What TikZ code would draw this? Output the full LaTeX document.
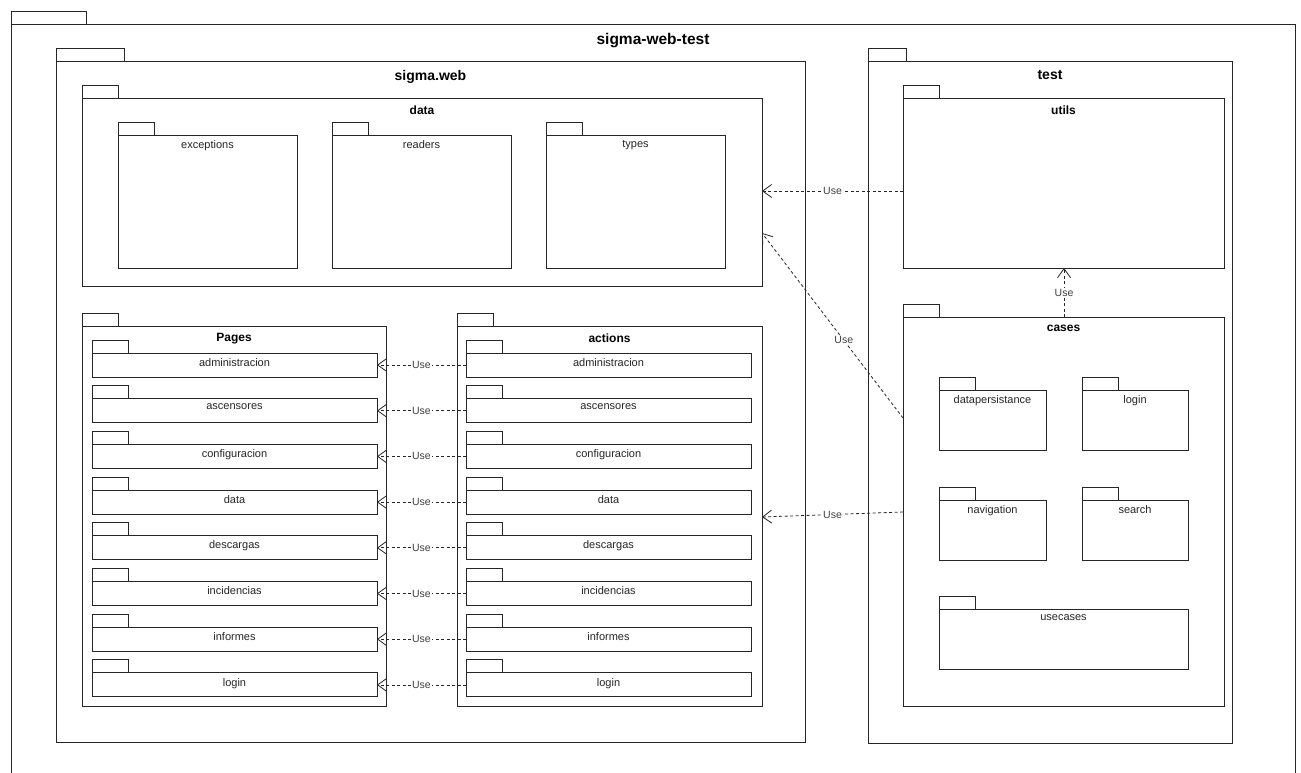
\documentclass[tikz,border=0pt]{standalone}
\usepackage{fontspec}
\setmainfont{Liberation Sans}
\usetikzlibrary{arrows.meta}

\tikzset{
  pkgbody/.style={draw=black!85, line width=0.9pt, rectangle, inner sep=0pt, outer sep=0pt},
  pkgtab/.style={draw=black!85, line width=0.9pt, rectangle, inner sep=0pt, outer sep=0pt, minimum height=13pt},
  bigtitle/.style={font=\fontsize{15.5}{17}\selectfont\bfseries, yshift=-8pt},
  midtitle/.style={font=\fontsize{14}{16}\selectfont\bfseries, yshift=-8.5pt},
  smalltitle/.style={font=\fontsize{12}{14}\selectfont\bfseries, yshift=-6.5pt},
  itemtitle/.style={font=\fontsize{11}{13}\selectfont, text=black!85, yshift=-4pt},
  uses/.style={draw=black!85, line width=0.8pt, dash pattern=on 3pt off 2.5pt,
    -{Straight Barb[length=9pt,width=13pt,line width=0.8pt]}},
  uselbl/.style={font=\fontsize{10.5}{12}\selectfont, text=black!75, fill=white, inner sep=1pt}
}

% #1 name, #2/#3 top-left corner, #4 width, #5 height, #6 tab width, #7 title style, #8 title
\newcommand\umlpkg[8]{%
  \node[pkgbody, minimum width=#4pt, minimum height=#5pt, anchor=north west] (#1) at (#2,#3) {};
  \node[pkgtab, minimum width=#6pt, anchor=south west] (#1-tab) at (#1.north west) {};
  \node[#7, anchor=north, inner sep=1pt] (#1-title) at (#1.north) {#8};
}

\begin{document}
\begin{tikzpicture}[x=1pt, y=-1pt]
  \clip (0,0) rectangle (1301,773);
  \fill[white] (0,0) rectangle (1301,773);

  % outer package
  \umlpkg{root}{11}{24}{1284}{800}{75}{bigtitle}{sigma-web-test}

  % sigma.web
  \umlpkg{web}{56}{61}{749}{681}{68}{midtitle}{sigma.web}

  % data
  \umlpkg{data}{82}{98}{680}{188}{36}{smalltitle}{data}
  \umlpkg{exc}{118}{135}{179}{133}{36}{itemtitle}{exceptions}
  \umlpkg{rdr}{332}{135}{179}{133}{36}{itemtitle}{readers}
  \umlpkg{typ}{546}{135}{179}{133}{36}{itemtitle}{types}

  % Pages and actions
  \umlpkg{pages}{82}{326}{304}{380}{36}{smalltitle}{Pages}
  \umlpkg{acts}{457}{326}{305}{380}{36}{smalltitle}{actions}

  \foreach \n/\lab [count=\i from 0] in {adm/administracion, asc/ascensores, cfg/configuracion,
      dat/data, des/descargas, inc/incidencias, inf/informes, log/login} {
    \pgfmathsetmacro\yy{353+45.7*\i}
    \umlpkg{pg-\n}{92}{\yy}{285}{24}{36}{itemtitle}{\lab}
    \umlpkg{ac-\n}{466}{\yy}{285}{24}{36}{itemtitle}{\lab}
    \draw[uses] (ac-\n.west) -- node[uselbl]{Use} (pg-\n.east);
  }

  % test
  \umlpkg{test}{868}{61}{364}{682}{38}{midtitle}{test}
  \umlpkg{utils}{903}{98}{321}{170}{36}{smalltitle}{utils}
  \umlpkg{cases}{903}{317}{321}{389}{36}{smalltitle}{cases}
  \umlpkg{dper}{939}{390}{107}{60}{36}{itemtitle}{datapersistance}
  \umlpkg{clog}{1082}{390}{106}{60}{36}{itemtitle}{login}
  \umlpkg{nav}{939}{500}{107}{60}{36}{itemtitle}{navigation}
  \umlpkg{srch}{1082}{500}{106}{60}{36}{itemtitle}{search}
  \umlpkg{ucs}{939}{609}{249}{60}{36}{itemtitle}{usecases}

  % dependencies between packages
  \coordinate (utilsOut) at (903,191);
  \coordinate (dataIn1) at (762,191);
  \draw[uses] (utilsOut) -- node[uselbl]{Use} (dataIn1);

  \coordinate (casesOut1) at (903,418);
  \coordinate (dataIn2) at (762,233);
  \draw[uses] (casesOut1) -- node[uselbl, pos=0.42]{Use} (dataIn2);

  \coordinate (casesOut2) at (903,512);
  \coordinate (actsIn) at (762,517);
  \draw[uses] (casesOut2) -- node[uselbl]{Use} (actsIn);

  \coordinate (casesTop) at (1064,317);
  \coordinate (utilsBot) at (1064,268);
  \draw[uses] (casesTop) -- node[uselbl]{Use} (utilsBot);
\end{tikzpicture}
\end{document}
